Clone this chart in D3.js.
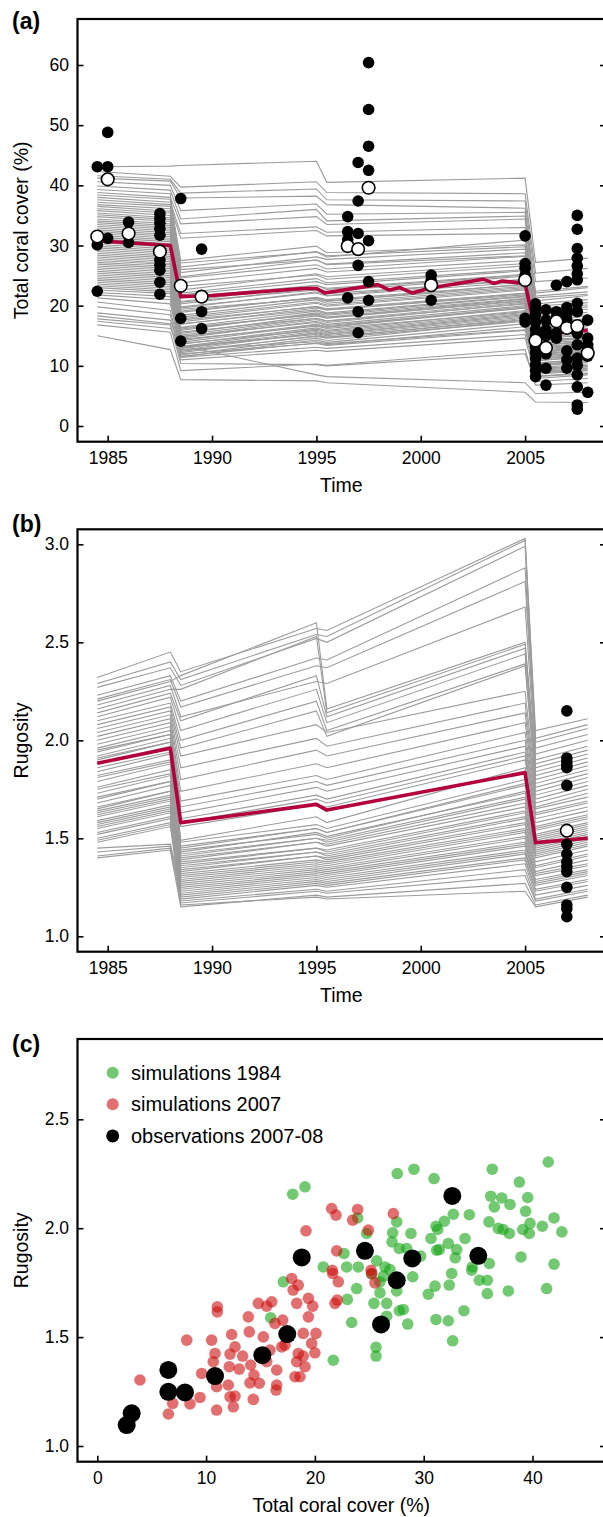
<!DOCTYPE html>
<html><head><meta charset="utf-8">
<script src="https://cdn.jsdelivr.net/npm/d3@7"></script>
<style>
body{margin:0;background:#fff;}
svg{display:block;}
text{font-family:"Liberation Sans",Arial,Helvetica,sans-serif;fill:#000;}
</style>
</head><body>
<svg id="chart" width="603" height="1517"></svg>
<script>
// ---------- DATA ----------
const simTimes = [1984.5, 1988.0, 1988.5, 1995.0, 1995.5, 2005.0, 2005.5, 2008.0];

// panel (a): simulated total coral cover (%) per simulation at simTimes
const coverSims = [
[43.1,43.2,43.3,44.0,40.5,41.2,27.2,27.9],
[42.3,41.5,39.7,40.6,38.8,38.6,25.4,26.2],
[41.6,41.0,38.7,39.4,37.6,37.4,24.0,24.6],
[41.2,40.7,37.9,38.2,36.8,36.2,22.1,23.0],
[40.6,40.0,35.8,36.9,35.2,35.5,21.6,22.3],
[39.9,39.2,34.4,36.0,34.1,34.9,20.8,21.7],
[39.3,38.6,24.8,27.6,26.9,28.8,19.9,20.5],
[38.8,38.0,33.6,34.8,33.5,34.4,18.6,19.4],
[38.4,37.7,27.5,29.9,28.8,30.1,21.3,21.9],
[38.0,37.2,32.0,33.1,32.2,33.0,17.4,18.3],
[37.6,36.8,26.4,29.0,28.3,29.8,20.3,21.0],
[37.2,36.5,31.2,32.5,31.6,32.0,16.7,17.6],
[36.8,36.1,25.5,28.1,27.7,29.4,18.9,19.8],
[36.5,35.7,22.6,25.3,24.8,27.0,17.9,18.5],
[36.1,35.4,27.1,28.9,28.1,30.9,22.4,23.2],
[35.8,35.0,23.8,26.2,25.6,27.5,16.2,16.9],
[35.4,34.6,20.7,23.4,22.9,25.2,15.4,16.0],
[35.1,34.3,26.0,27.6,26.8,28.3,19.4,20.1],
[34.8,34.0,21.8,24.0,23.5,25.8,14.8,15.3],
[34.4,33.6,24.6,26.8,26.1,28.2,17.2,17.8],
[34.1,33.3,19.6,22.3,21.7,24.4,13.9,14.6],
[33.8,33.0,23.2,25.1,24.4,26.6,18.2,18.9],
[33.5,32.7,18.9,21.4,21.0,23.5,12.9,13.6],
[33.2,32.4,22.1,24.5,23.8,26.0,16.5,17.1],
[32.9,32.1,20.3,22.9,22.4,24.9,15.8,16.5],
[32.6,31.8,17.8,20.4,19.9,22.6,12.3,12.9],
[32.3,31.5,21.4,23.4,22.7,25.1,14.5,15.1],
[32.0,31.2,16.9,19.6,19.3,21.8,11.6,12.3],
[31.7,30.9,19.8,22.1,21.6,23.9,13.3,14.0],
[31.4,30.6,18.4,21.0,20.4,23.0,15.1,15.7],
[31.1,30.3,15.9,18.8,18.4,21.2,10.8,11.5],
[30.8,30.0,20.6,22.6,22.0,24.2,16.9,17.5],
[30.5,29.7,17.3,19.9,19.5,22.1,13.7,14.3],
[30.2,29.4,14.8,17.7,17.2,20.4,10.2,10.9],
[29.9,29.1,19.1,21.3,20.8,23.2,14.2,14.8],
[29.6,28.8,16.4,19.1,18.6,21.5,12.6,13.2],
[29.3,28.5,18.1,20.6,20.1,22.8,15.5,16.2],
[29.0,28.2,15.4,18.3,17.9,20.8,11.2,11.9],
[28.7,27.9,13.9,16.8,16.4,19.6,9.7,10.3],
[28.4,27.6,17.6,19.8,19.3,22.0,13.1,13.8],
[28.1,27.3,16.1,18.6,18.1,21.1,12.0,12.6],
[27.8,27.0,14.6,17.4,16.9,20.0,10.5,11.1],
[27.5,26.8,19.4,21.2,20.7,23.6,16.1,16.8],
[27.2,26.5,15.1,17.9,17.5,20.6,11.9,12.4],
[26.9,26.2,13.2,16.1,15.7,18.9,9.2,9.8],
[26.6,25.9,17.0,19.3,18.8,21.6,14.0,14.6],
[26.3,25.6,14.2,16.9,16.5,19.8,10.9,11.5],
[26.0,25.3,12.6,15.5,15.2,18.3,8.9,9.5],
[25.7,25.0,16.3,18.5,18.0,20.9,12.8,13.4],
[25.4,24.7,13.6,16.3,15.9,19.2,10.1,10.7],
[25.1,24.4,15.6,17.9,17.4,20.3,13.4,14.1],
[24.8,24.1,12.2,15.0,14.7,17.9,8.6,9.2],
[24.5,23.8,14.9,17.2,16.7,19.6,11.4,12.0],
[24.2,23.5,13.0,15.7,15.3,18.5,9.5,10.1],
[23.9,23.2,11.8,14.6,14.2,17.6,8.3,8.8],
[23.6,22.9,14.4,16.6,16.2,19.0,12.2,12.8],
[23.3,22.6,12.9,15.4,15.0,18.1,10.4,11.0],
[23.0,22.3,11.5,14.3,13.9,17.0,7.9,8.5],
[22.6,22.0,13.7,15.9,15.5,18.7,11.1,11.7],
[22.2,21.5,12.4,14.9,14.6,17.4,9.0,9.6],
[21.8,21.0,11.6,13.8,13.5,16.5,8.8,9.3],
[21.3,20.3,13.2,15.2,14.8,17.7,12.5,13.0],
[20.6,19.2,12.0,13.7,13.4,15.9,10.0,10.6],
[19.8,18.5,11.4,13.1,12.9,15.2,9.4,9.9],
[18.8,17.6,12.7,14.0,13.7,16.0,11.7,12.1],
[18.3,17.0,11.0,12.6,12.4,14.6,8.2,8.7],
[17.8,16.8,10.4,10.2,10.0,12.0,7.4,7.9],
[17.4,16.2,13.4,8.5,8.2,7.2,5.4,5.6],
[16.8,15.6,9.2,10.3,10.1,12.7,6.8,7.2],
[15.0,12.7,7.7,7.5,7.2,5.6,4.0,3.9]
];

// panel (b): simulated rugosity per simulation at simTimes
const rugSims = [
[2.32,2.45,2.35,2.57,2.56,3.03,2.05,2.11],
[2.29,2.40,2.31,2.54,2.53,3.02,2.01,2.08],
[2.27,2.37,2.28,2.52,2.50,2.99,1.99,2.06],
[2.23,2.33,2.20,2.42,2.41,2.88,1.96,2.03],
[2.21,2.31,2.17,2.38,2.37,2.81,1.93,2.00],
[2.18,2.28,2.12,2.30,2.29,2.68,1.90,1.97],
[2.20,2.30,2.33,2.60,2.16,2.50,1.88,1.95],
[2.16,2.26,2.26,2.53,2.14,2.49,1.86,1.93],
[2.14,2.24,2.10,2.33,2.12,2.47,1.84,1.91],
[2.12,2.22,2.05,2.26,2.09,2.44,1.82,1.89],
[2.10,2.19,2.00,2.20,2.05,2.39,1.80,1.87],
[2.08,2.17,1.96,2.15,2.02,2.38,1.78,1.85],
[2.06,2.15,1.92,2.08,2.04,2.25,1.76,1.83],
[2.04,2.13,1.86,2.01,1.97,2.19,1.74,1.81],
[2.02,2.11,1.80,1.95,1.92,2.14,1.72,1.79],
[2.00,2.09,1.74,1.88,1.86,2.09,1.70,1.77],
[1.98,2.07,1.69,1.82,1.80,2.04,1.68,1.75],
[1.96,2.05,1.66,1.79,1.77,2.00,1.66,1.73],
[1.94,2.03,1.63,1.76,1.74,1.97,1.65,1.71],
[1.92,2.01,1.60,1.72,1.70,1.94,1.63,1.69],
[1.90,1.99,1.58,1.70,1.68,1.92,1.62,1.68],
[1.88,1.97,1.56,1.67,1.66,1.90,1.60,1.66],
[1.95,2.03,1.49,1.61,1.58,1.86,1.58,1.64],
[1.84,1.93,1.48,1.57,1.55,1.80,1.56,1.62],
[1.91,1.99,1.46,1.55,1.53,1.78,1.55,1.61],
[1.76,1.85,1.45,1.55,1.53,1.77,1.54,1.60],
[1.88,1.96,1.44,1.52,1.50,1.74,1.52,1.58],
[1.70,1.79,1.43,1.53,1.51,1.73,1.51,1.57],
[1.82,1.90,1.42,1.50,1.49,1.71,1.50,1.56],
[1.65,1.74,1.41,1.50,1.48,1.70,1.49,1.55],
[1.79,1.88,1.40,1.48,1.47,1.68,1.48,1.54],
[1.62,1.70,1.39,1.48,1.46,1.66,1.47,1.53],
[1.86,1.94,1.38,1.45,1.44,1.64,1.46,1.52],
[1.59,1.67,1.37,1.45,1.43,1.63,1.45,1.51],
[1.73,1.82,1.36,1.43,1.42,1.61,1.44,1.50],
[1.57,1.65,1.35,1.43,1.41,1.60,1.43,1.49],
[1.68,1.77,1.34,1.41,1.40,1.58,1.42,1.48],
[1.55,1.63,1.33,1.41,1.39,1.57,1.41,1.47],
[1.81,1.89,1.32,1.39,1.38,1.55,1.40,1.46],
[1.64,1.72,1.31,1.38,1.37,1.54,1.38,1.44],
[1.50,1.58,1.30,1.37,1.36,1.53,1.36,1.42],
[1.75,1.83,1.29,1.36,1.35,1.51,1.35,1.41],
[1.61,1.69,1.28,1.35,1.34,1.50,1.33,1.39],
[1.48,1.56,1.27,1.34,1.33,1.48,1.32,1.37],
[1.71,1.79,1.26,1.33,1.32,1.47,1.31,1.36],
[1.58,1.66,1.25,1.32,1.31,1.46,1.29,1.34],
[1.45,1.47,1.24,1.31,1.30,1.44,1.28,1.33],
[1.66,1.74,1.23,1.30,1.29,1.43,1.27,1.32],
[1.53,1.61,1.22,1.29,1.28,1.42,1.26,1.31],
[1.43,1.46,1.21,1.28,1.27,1.40,1.24,1.29],
[1.63,1.71,1.20,1.27,1.26,1.39,1.23,1.28],
[1.52,1.60,1.19,1.26,1.25,1.37,1.21,1.26],
[1.41,1.45,1.18,1.24,1.23,1.34,1.19,1.24],
[1.56,1.64,1.17,1.23,1.22,1.31,1.18,1.23],
[1.40,1.44,1.15,1.21,1.20,1.27,1.16,1.21],
[1.49,1.57,1.16,1.20,1.19,1.23,1.15,1.20]
];

// mean trajectories (red)
const coverMeanTimes = [1984.5,1988.0,1988.5,1990.0,1994.2,1995.0,1995.4,1997.95,1998.5,1999.0,1999.6,2000.4,2003.0,2003.5,2003.9,2005.0,2005.5,2006.3,2008.0];
const coverMeanVals  = [30.8,30.0,21.5,21.7,22.8,22.9,22.1,23.5,22.6,23.0,22.1,22.9,24.4,23.7,24.1,23.7,15.7,15.4,15.9];
const rugMeanTimes = [1984.5,1988.0,1988.5,1995.0,1995.5,2005.0,2005.5,2008.0];
const rugMeanVals  = [1.883,1.959,1.58,1.673,1.644,1.835,1.478,1.50];

// observations (black) and their means (white)
const coverObs = [
[1984.5,43.1],[1984.5,30.1],[1984.5,22.4],
[1985,48.8],[1985,43.1],[1985,31.2],
[1986,33.9],[1986,30.5],
[1987.5,35.3],[1987.5,34.5],[1987.5,33.7],[1987.5,32.8],[1987.5,31.7],[1987.5,29.2],[1987.5,27.6],[1987.5,26.7],[1987.5,25.9],[1987.5,23.9],[1987.5,21.9],
[1988.5,37.8],[1988.5,17.9],[1988.5,14.1],
[1989.5,29.4],[1989.5,19.0],[1989.5,16.2],
[1996.5,34.8],[1996.5,32.3],[1996.5,31.0],[1996.5,21.3],
[1997,43.8],[1997,37.4],[1997,32.0],[1997,26.7],[1997,19.0],[1997,15.5],
[1997.5,60.4],[1997.5,52.6],[1997.5,46.5],[1997.5,42.5],[1997.5,30.8],[1997.5,24.0],[1997.5,20.9],
[2000.5,25.1],[2000.5,24.2],[2000.5,20.9],
[2005,31.6],[2005,27.0],[2005,26.2],[2005,25.1],[2005,17.9],[2005,17.3],
[2005.5,20.3],[2005.5,19.5],[2005.5,18.5],[2005.5,17.3],[2005.5,16.0],[2005.5,15.0],[2005.5,13.2],[2005.5,12.2],[2005.5,11.2],[2005.5,10.2],[2005.5,9.2],[2005.5,8.2],
[2006,19.3],[2006,17.6],[2006,16.0],[2006,15.0],[2006,12.0],[2006,9.6],[2006,6.8],
[2006.5,23.4],[2006.5,19.0],[2006.5,18.0],[2006.5,15.5],[2006.5,14.6],
[2007,24.0],[2007,19.7],[2007,18.7],[2007,17.6],[2007,12.5],[2007,11.0],[2007,9.6],
[2007.5,35.0],[2007.5,32.7],[2007.5,29.5],[2007.5,27.9],[2007.5,26.6],[2007.5,25.3],[2007.5,24.3],[2007.5,20.4],[2007.5,19.0],[2007.5,15.4],[2007.5,13.5],[2007.5,11.3],[2007.5,10.1],[2007.5,8.5],[2007.5,6.5],[2007.5,3.5],[2007.5,2.8],
[2008,17.6],[2008,14.6],[2008,13.5],[2008,12.9],[2008,11.6],[2008,5.6]
];
const coverObsMeans = [
[1984.5,31.5],[1985,41.0],[1986,32.0],[1987.5,29.0],[1988.5,23.3],[1989.5,21.5],
[1996.5,29.9],[1997,29.4],[1997.5,39.6],[2000.5,23.4],[2005,24.25],[2005.5,14.2],
[2006,13.0],[2006.5,17.4],[2007,16.3],[2007.5,16.6],[2008,12.1]
];
const rugObs = [
[2007,2.15],[2007,1.91],[2007,1.89],[2007,1.87],[2007,1.86],[2007,1.77],[2007,1.47],[2007,1.42],
[2007,1.38],[2007,1.355],[2007,1.33],[2007,1.25],[2007,1.16],[2007,1.14],[2007,1.10]
];
const rugObsMeans = [[2007,1.539]];

// panel (c): [cover, rugosity]
const sim1984 = [
[27.57,2.251],[29.1,2.271],[30.95,2.228],[36.3,2.271],[41.45,2.304],[38.79,2.212],[39.56,2.141],[36.16,2.147],
[37.17,2.139],[37.93,2.109],[36.49,2.098],[39.37,2.078],[36.0,2.029],[36.86,1.999],[37.3,1.994],[37.87,1.976],
[39.1,1.994],[39.77,2.022],[39.7,1.976],[40.9,2.009],[41.98,2.047],[42.7,1.983],[38.94,1.868],[41.98,1.835],
[34.19,2.062],[32.72,2.064],[31.9,2.032],[31.13,2.009],[31.29,1.994],[30.67,1.953],[33.8,1.953],[32.26,1.93],
[33.03,1.902],[31.43,1.902],[31.19,1.899],[32.9,1.864],[34.47,1.822],[36.03,1.838],[29.72,1.872],[28.83,1.976],
[27.52,2.029],[27.15,1.979],[27.09,1.937],[27.76,1.907],[28.43,1.907],[25.68,1.85],[24.76,1.976],[23.93,2.047],
[22.67,1.884],[19.09,2.19],[17.96,2.156],[20.77,1.822],[22.92,1.822],[23.99,1.822],[26.44,1.822],[17.1,1.754],
[15.94,1.589],[21.69,1.394],[23.38,1.567],[22.98,1.673],[23.84,1.723],[25.62,1.453],[25.62,1.413],[25.43,1.655],
[25.98,1.703],[26.6,1.655],[26.6,1.596],[25.98,1.754],[27.76,1.621],[28.12,1.627],[28.53,1.56],[27.52,1.712],
[28.99,1.777],[30.42,1.697],[31.04,1.734],[31.13,1.581],[32.26,1.575],[32.35,1.739],[32.66,1.483],[33.7,1.621],
[32.57,1.792],[35.11,1.761],[35.85,1.761],[35.85,1.7],[37.78,1.712],[41.3,1.723],[34.41,1.807],[26.3,1.78],
[26.9,1.81],[25.2,1.79]
];
const sim2007 = [
[21.54,2.09],[21.94,2.06],[23.93,2.086],[23.47,2.037],[24.91,1.991],[27.21,2.067],[19.18,1.988],[22.0,1.896],
[21.6,1.807],[25.16,1.807],[3.92,1.303],[8.22,1.486],[6.53,1.147],[6.93,1.196],[8.52,1.193],[9.44,1.223],
[9.6,1.333],[10.51,1.486],[10.82,1.425],[10.66,1.387],[11.03,1.639],[11.03,1.616],[10.97,1.165],[10.97,1.272],
[12.04,1.28],[12.2,1.226],[12.5,1.18],[12.66,1.229],[12.13,1.364],[12.66,1.455],[12.35,1.512],[12.2,1.422],
[13.05,1.353],[13.36,1.413],[14.34,1.214],[14.03,1.29],[14.4,1.326],[14.89,1.288],[14.1,1.372],[13.97,1.524],
[13.88,1.593],[14.8,1.655],[15.57,1.642],[16.03,1.662],[15.26,1.501],[15.57,1.387],[16.49,1.349],[16.49,1.28],
[16.43,1.257],[15.87,1.44],[16.33,1.563],[17.04,1.578],[16.95,1.455],[17.25,1.463],[17.87,1.769],[18.0,1.716],
[18.33,1.655],[18.47,1.739],[18.47,1.425],[18.17,1.318],[18.33,1.387],[19.4,1.678],[19.8,1.642],[19.4,1.593],
[18.93,1.517],[20.1,1.517],[19.7,1.471],[20.0,1.428],[18.93,1.413],[19.09,1.364],[18.63,1.318],[22.15,1.754],
[21.85,1.655],[22.06,1.67],[21.64,1.792],[25.22,1.792],[25.52,1.749]
];
const obs2007 = [
[2.7,1.096],[3.16,1.15],[6.53,1.349],[6.53,1.249],[8.06,1.246],[10.82,1.321],[15.17,1.417],[17.46,1.514],
[27.52,1.761],[26.08,1.558],[32.63,2.148],[24.6,1.896],[28.95,1.861],[35.02,1.873],[18.79,1.866]
];

const yearTicks = [1985, 1990, 1995, 2000, 2005];
const coverTicksA = [0, 10, 20, 30, 40, 50, 60];
const rugTicksB = [1.0, 1.5, 2.0, 2.5, 3.0];
const coverTicksC = [0, 10, 20, 30, 40];
const rugTicksC = [1.0, 1.5, 2.0, 2.5];
const legendLabels = ["simulations 1984", "simulations 2007", "observations 2007-08"];
const panelLabels = ["(a)", "(b)", "(c)"];

// ---------- DRAWING ----------
const svg = d3.select("#chart");
const L = 77.5, R = 606;
const GREY = "#9b9b9b", RED = "#b3003a";
const panels = [
  {top: 19, bottom: 441.7, lab: 28.5},
  {top: 529.3, bottom: 951.7, lab: 532},
  {top: 1039, bottom: 1461.7, lab: 1051.5}
];

const xYear = d3.scaleLinear().domain([1985, 2005]).range([107.7, 525.1]);
const yA = d3.scaleLinear().domain([0, 60]).range([426, 65]);
const yB = d3.scaleLinear().domain([1, 3]).range([936.3, 544.3]);
const xC = d3.scaleLinear().domain([0, 40]).range([97.3, 532.5]);
const yC = d3.scaleLinear().domain([1, 2.5]).range([1446, 1119.3]);

function axes(p, xs, ys, xt, yt, xfmt, yfmt, xTitle, yTitle, label) {
  const g = svg.append("g");
  g.append("g").attr("transform", `translate(0,${p.bottom})`)
    .call(d3.axisBottom(xs).tickValues(xt).tickFormat(xfmt).tickSize(-6).tickPadding(10))
    .call(a => { a.select(".domain").remove(); a.selectAll("line").attr("stroke","#000").attr("stroke-width",1.6);
      a.selectAll("text").attr("font-size","17.5px").attr("font-family",'"Liberation Sans",Arial,sans-serif'); });
  g.append("g").attr("transform", `translate(${L},0)`)
    .call(d3.axisLeft(ys).tickValues(yt).tickFormat(yfmt).tickSize(-6).tickPadding(8.5))
    .call(a => { a.select(".domain").remove(); a.selectAll("line").attr("stroke","#000").attr("stroke-width",1.6);
      a.selectAll("text").attr("font-size","17.5px").attr("font-family",'"Liberation Sans",Arial,sans-serif'); });
  g.append("g").attr("transform", `translate(${R},0)`)
    .call(d3.axisRight(ys).tickValues(yt).tickFormat(() => "").tickSize(-6))
    .call(a => { a.select(".domain").remove(); a.selectAll("line").attr("stroke","#000").attr("stroke-width",1.6); });
  g.append("rect").attr("x", L).attr("y", p.top).attr("width", R - L).attr("height", p.bottom - p.top)
    .attr("fill", "none").attr("stroke", "#000").attr("stroke-width", 2.2);
  g.append("text").attr("x", (L + R) / 2 - 0.5).attr("y", p.bottom + 50).attr("text-anchor", "middle")
    .attr("font-size", "19.5px").text(xTitle);
  g.append("text").attr("transform", `translate(28,${(p.top + p.bottom) / 2}) rotate(-90)`)
    .attr("text-anchor", "middle").attr("font-size", "19.5px").text(yTitle);
  g.append("text").attr("x", 12).attr("y", p.lab).attr("font-size", "23px")
    .attr("font-weight", "bold").text(label);
}

const f1 = d3.format(".1f");

// ---- Panel (a)
{
  const p = panels[0];
  const line = d3.line().x(d => xYear(d[0])).y(d => yA(d[1]));
  const g = svg.append("g");
  g.selectAll(".sim").data(coverSims).join("path")
    .attr("d", s => line(simTimes.map((t, i) => [t, s[i]])))
    .attr("fill", "none").attr("stroke", GREY).attr("stroke-width", 1.1);
  g.append("path").attr("d", line(coverMeanTimes.map((t, i) => [t, coverMeanVals[i]])))
    .attr("fill", "none").attr("stroke", RED).attr("stroke-width", 3.6).attr("stroke-linejoin", "round");
  g.selectAll(".obs").data(coverObs).join("circle")
    .attr("cx", d => xYear(d[0])).attr("cy", d => yA(d[1])).attr("r", 5.8).attr("fill", "#000");
  g.selectAll(".mean").data(coverObsMeans).join("circle")
    .attr("cx", d => xYear(d[0])).attr("cy", d => yA(d[1])).attr("r", 6.3)
    .attr("fill", "#fff").attr("stroke", "#000").attr("stroke-width", 1.6);
  axes(p, xYear, yA, yearTicks, coverTicksA, d3.format("d"), d3.format("d"), "Time", "Total coral cover (%)", panelLabels[0]);
}

// ---- Panel (b)
{
  const p = panels[1];
  const line = d3.line().x(d => xYear(d[0])).y(d => yB(d[1]));
  const g = svg.append("g");
  g.selectAll(".sim").data(rugSims).join("path")
    .attr("d", s => line(simTimes.map((t, i) => [t, s[i]])))
    .attr("fill", "none").attr("stroke", GREY).attr("stroke-width", 1.1);
  g.append("path").attr("d", line(rugMeanTimes.map((t, i) => [t, rugMeanVals[i]])))
    .attr("fill", "none").attr("stroke", RED).attr("stroke-width", 3.6).attr("stroke-linejoin", "round");
  g.selectAll(".obs").data(rugObs).join("circle")
    .attr("cx", d => xYear(d[0])).attr("cy", d => yB(d[1])).attr("r", 5.8).attr("fill", "#000");
  g.selectAll(".mean").data(rugObsMeans).join("circle")
    .attr("cx", d => xYear(d[0])).attr("cy", d => yB(d[1])).attr("r", 6.3)
    .attr("fill", "#fff").attr("stroke", "#000").attr("stroke-width", 1.6);
  axes(p, xYear, yB, yearTicks, rugTicksB, d3.format("d"), f1, "Time", "Rugosity", panelLabels[1]);
}

// ---- Panel (c)
{
  const p = panels[2];
  const g = svg.append("g");
  const GREEN = "rgb(20,165,20)", REDP = "rgb(205,15,15)";
  g.selectAll(".g84").data(sim1984).join("circle")
    .attr("cx", d => xC(d[0])).attr("cy", d => yC(d[1])).attr("r", 5.8)
    .attr("fill", GREEN).attr("fill-opacity", 0.6);
  g.selectAll(".r07").data(sim2007).join("circle")
    .attr("cx", d => xC(d[0])).attr("cy", d => yC(d[1])).attr("r", 5.8)
    .attr("fill", REDP).attr("fill-opacity", 0.6);
  g.selectAll(".o07").data(obs2007).join("circle")
    .attr("cx", d => xC(d[0])).attr("cy", d => yC(d[1])).attr("r", 9).attr("fill", "#000");
  const lg = svg.append("g");
  const lcol = [[GREEN, 0.6, 6], [REDP, 0.6, 6], ["#000", 1, 6.5]];
  legendLabels.forEach((t, i) => {
    const y = 1072.7 + i * 31.6;
    lg.append("circle").attr("cx", 112.7).attr("cy", y).attr("r", lcol[i][2])
      .attr("fill", lcol[i][0]).attr("fill-opacity", lcol[i][1]);
    lg.append("text").attr("x", 131).attr("y", y + 6.8).attr("font-size", "20px").text(t);
  });
  axes(p, xC, yC, coverTicksC, rugTicksC, d3.format("d"), f1, "Total coral cover (%)", "Rugosity", panelLabels[2]);
}
</script>
</body></html>
